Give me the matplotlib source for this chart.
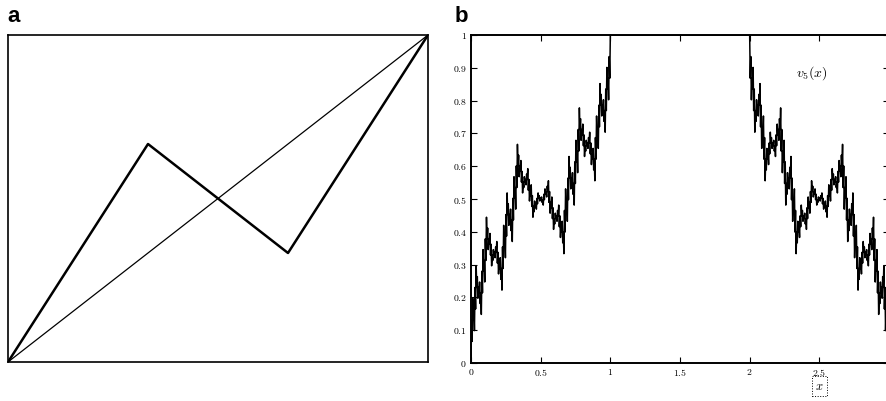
import numpy as np
import matplotlib
matplotlib.use("Agg")
import matplotlib.pyplot as plt
from matplotlib.transforms import blended_transform_factory

plt.rcParams['mathtext.fontset'] = 'cm'

# ---------------- data ----------------
# panel a: generator polyline and diagonal
gen_x = [0.0, 1/3, 2/3, 1.0]
gen_y = [0.0, 2/3, 1/3, 1.0]
diag_x = [0.0, 1.0]
diag_y = [0.0, 1.0]

# panel b: v_5 on [0,1] (values in units of 1/243, equally spaced samples)
v5_num = [0, 32, 16, 48, 32, 40, 24, 56, 40, 72, 56, 64, 48, 56, 52, 60, 44, 52,
          36, 68, 52, 84, 68, 76, 60, 92, 76, 108, 92, 100, 84, 92, 88, 96, 80, 88,
          72, 80, 76, 84, 80, 82, 78, 86, 82, 90, 74, 82, 66, 74, 70, 78, 62, 70,
          54, 86, 70, 102, 86, 94, 78, 110, 94, 126, 110, 118, 102, 110, 106, 114, 98, 106,
          90, 122, 106, 138, 122, 130, 114, 146, 130, 162, 146, 154, 138, 146, 142, 150, 134, 142,
          126, 134, 130, 138, 134, 136, 132, 140, 136, 144, 128, 136, 120, 128, 124, 132, 116, 124,
          108, 116, 112, 120, 116, 118, 114, 122, 118, 126, 122, 124, 120, 122, 121, 123, 119, 121,
          117, 125, 121, 129, 125, 127, 123, 131, 127, 135, 119, 127, 111, 119, 115, 123, 107, 115,
          99, 107, 103, 111, 107, 109, 105, 113, 109, 117, 101, 109, 93, 101, 97, 105, 89, 97,
          81, 113, 97, 129, 113, 121, 105, 137, 121, 153, 137, 145, 129, 137, 133, 141, 125, 133,
          117, 149, 133, 165, 149, 157, 141, 173, 157, 189, 173, 181, 165, 173, 169, 177, 161, 169,
          153, 161, 157, 165, 161, 163, 159, 167, 163, 171, 155, 163, 147, 155, 151, 159, 143, 151,
          135, 167, 151, 183, 167, 175, 159, 191, 175, 207, 191, 199, 183, 191, 187, 195, 179, 187,
          171, 203, 187, 219, 203, 211, 195, 227, 211, 243]
v5_den = 243
plateau_x = [1.0, 2.0]
plateau_y = [1.0, 1.0]

xticks_b = [0, 0.5, 1, 1.5, 2, 2.5, 3]
xticklabels_b = ['0', '0.5', '1', '1.5', '2', '2.5', '3']
yticks_b = [0, 0.1, 0.2, 0.3, 0.4, 0.5, 0.6, 0.7, 0.8, 0.9, 1]
yticklabels_b = ['0', '0.1', '0.2', '0.3', '0.4', '0.5', '0.6', '0.7', '0.8', '0.9', '1']

# ---------------- figure ----------------
W, H = 887, 401
fig = plt.figure(figsize=(W / 100, H / 100), dpi=100)

# panel a
ax_a = fig.add_axes([8 / W, (H - 362) / H, 420 / W, 327 / H])
ax_a.plot(diag_x, diag_y, color='black', lw=0.9)
ax_a.plot(gen_x, gen_y, color='black', lw=1.8)
ax_a.set_xlim(0, 1)
ax_a.set_ylim(0, 1)
ax_a.set_xticks([])
ax_a.set_yticks([])
for s in ax_a.spines.values():
    s.set_linewidth(1.2)

# panel b
ax_b = fig.add_axes([471 / W, (H - 363) / H, (889 - 471) / W, 328 / H])
v = np.array(v5_num) / v5_den
xl = np.linspace(0, 1, len(v))
ax_b.plot(xl, v, color='black', lw=1.1)
ax_b.plot(plateau_x, plateau_y, color='black', lw=1.1)
ax_b.plot(3 - xl, v, color='black', lw=1.1)
ax_b.set_xlim(0, 3)
ax_b.set_ylim(0, 1)
ax_b.set_xticks(xticks_b)
ax_b.set_xticklabels(['$' + t + '$' for t in xticklabels_b])
ax_b.set_yticks(yticks_b)
ax_b.set_yticklabels(['$' + t + '$' for t in yticklabels_b])
ax_b.tick_params(direction='in', length=4, width=0.8, labelsize=7,
                 top=True, right=True, pad=3)
for s in ax_b.spines.values():
    s.set_linewidth(1.4)

ax_b.text(2.45, 0.885, '$v_5(x)$', fontsize=10, ha='center', va='center')
trans = blended_transform_factory(ax_b.transData, fig.transFigure)
ax_b.text(2.5, (H - 386) / H, '$x$', transform=trans, fontsize=9,
          ha='center', va='center',
          bbox=dict(boxstyle='square,pad=0.25', fc='none', ec='black', ls=':', lw=0.7))

# panel letters
fig.text(7 / W, 1 - 22 / H, 'a', fontsize=16, fontweight='bold',
         family='Liberation Sans', ha='left', va='baseline')
fig.text(455 / W, 1 - 22 / H, 'b', fontsize=16, fontweight='bold',
         family='Liberation Sans', ha='left', va='baseline')

fig.savefig('out.png', dpi=100)
